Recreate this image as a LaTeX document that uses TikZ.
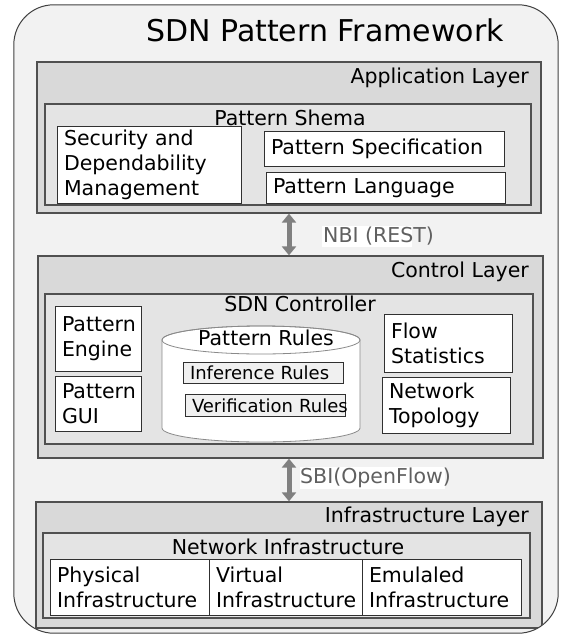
\documentclass[tikz,border=0pt]{standalone}
\usepackage{fontspec}
\setmainfont{DejaVu Sans}
\usetikzlibrary{arrows.meta,fit,calc}
\definecolor{outerbg}{HTML}{F2F2F2}
\definecolor{layerbg}{HTML}{D9D9D9}
\definecolor{innerbg}{HTML}{E4E4E4}
\definecolor{layeredge}{HTML}{505050}
\definecolor{boxedge}{HTML}{303030}
\definecolor{arrowgray}{HTML}{808080}
\definecolor{rulebg}{HTML}{F0F0F0}
\definecolor{cyledge}{HTML}{8A8A8A}
\definecolor{ifacetext}{HTML}{606060}
% style, name, x1, y1, x2, y2, text
\newcommand{\tbox}[7]{%
  \pgfmathsetmacro{\tbw}{#5-#3}%
  \pgfmathsetmacro{\tbh}{#6-#4}%
  \pgfmathsetmacro{\tbt}{#5-#3-13}%
  \node[#1, anchor=north west, minimum width=\tbw pt, minimum height=\tbh pt, text width=\tbt pt] (#2) at (#3,#4) {#7};}
\begin{document}
\begin{tikzpicture}[x=1pt,y=-1pt, font=\fontsize{20.5}{25}\selectfont,
  layer/.style={draw=layeredge, fill=layerbg, line width=1.3pt, inner sep=0pt},
  group/.style={draw=layeredge, fill=innerbg, line width=1.1pt, inner sep=0pt},
  box/.style={draw=boxedge, fill=white, line width=1pt, inner sep=0pt, align=left},
  rulebox/.style={draw=boxedge, fill=rulebg, line width=1pt, inner sep=0pt, align=left, font=\fontsize{18}{21}\selectfont},
  lbl/.style={inner sep=0pt},
  iface/.style={line width=5pt, draw=arrowgray, {Triangle[length=9pt,width=14pt]}-{Triangle[length=9pt,width=14pt]}},
  ifacelbl/.style={inner sep=0pt, text=ifacetext, anchor=west},
  whitebg/.style={fill=white, inner sep=0pt, draw=none},
]
\useasboundingbox (0,0) rectangle (565,635);
% outer frame
\node[draw=none, fill=outerbg, rounded corners=40pt, inner sep=0pt, fit={(14,5) (558,633)}] (frame) {};
\node[lbl, font=\fontsize{30}{36}\selectfont] (title) at (325,30) {SDN Pattern Framework};

\begin{scope}
\clip[rounded corners=40pt] (14,5) rectangle (558,633);
% application layer
\node[layer, fit={(37,62) (541,213)}] (app) {};
\node[lbl, anchor=east] (applbl) at (529,78) {Application Layer};
\node[group, fit={(45,104) (531,205)}] (schema) {};
\node[lbl] (schemalbl) at (290,118) {Pattern Shema};
\tbox{box}{sec}{57}{126}{241}{203}{Security and\\Dependability\\Management}
\tbox{box}{spec}{264}{131}{504}{166}{Pattern Specification}
\tbox{box}{lang}{266}{172}{505}{203}{Pattern Language}

% control layer
\node[layer, fit={(38,256) (543,458)}] (ctl) {};
\node[lbl, anchor=east] (ctllbl) at (529,272) {Control Layer};
\node[group, fit={(45,294) (533,444)}] (sdn) {};
\node[lbl] (sdnlbl) at (300,304) {SDN Controller};
\tbox{box}{engine}{55}{306}{141}{371}{Pattern\\Engine}
\tbox{box}{gui}{55}{376}{141}{431}{Pattern\\GUI}
\path[draw=cyledge, fill=white, line width=0.8pt]
  (162,340) -- (162,428) arc[start angle=180, end angle=0, x radius=99, y radius=14]
  -- (360,340) arc[start angle=0, end angle=-180, x radius=99, y radius=14] -- cycle;
\draw[draw=cyledge, line width=0.8pt] (261,340) ellipse[x radius=99, y radius=14];
\node[lbl] (rules) at (266,338) {Pattern Rules};
\tbox{rulebox}{infer}{183}{362}{343}{383}{\mbox{Inference Rules}}
\tbox{rulebox}{verif}{185}{394}{345}{416}{\mbox{Verification Rules}}
\tbox{box}{flow}{384}{314}{512}{372}{Flow\\Statistics}
\tbox{box}{topo}{382}{377}{510}{433}{Network\\Topology}

% infrastructure layer
\node[layer, fit={(36,502) (542,628)}] (infra) {};
\node[lbl, anchor=east] (infralbl) at (529,517) {Infrastructure Layer};
\node[group, fit={(43,533) (530,618)}] (netinf) {};
\node[lbl] (netinflbl) at (288,547) {Network Infrastructure};
\tbox{box}{phys}{50}{559}{209}{615}{Physical\\Infrastructure}
\tbox{box}{virt}{209}{559}{362}{615}{Virtual\\Infrastructure}
\tbox{box}{emu}{362}{559}{521}{615}{Emulaled\\Infrastructure}
\end{scope}
\draw[draw=black!75, line width=1pt, rounded corners=40pt] (frame.north west) rectangle (frame.south east);

% interfaces
\coordinate (ax) at (289,0);
\draw[iface] (ax |- app.south) -- (ax |- ctl.north);
\node[whitebg, fit={(322,226) (412,247)}] (nbibg) {};
\node[ifacelbl] (nbi) at (323,236) {NBI (REST)};
\draw[iface] (ax |- ctl.south) -- (ax |- infra.north);
\node[whitebg, fit={(300,467) (445,489)}] (sbibg) {};
\node[ifacelbl] (sbi) at (300,478) {SBI(OpenFlow)};
\end{tikzpicture}
\end{document}
